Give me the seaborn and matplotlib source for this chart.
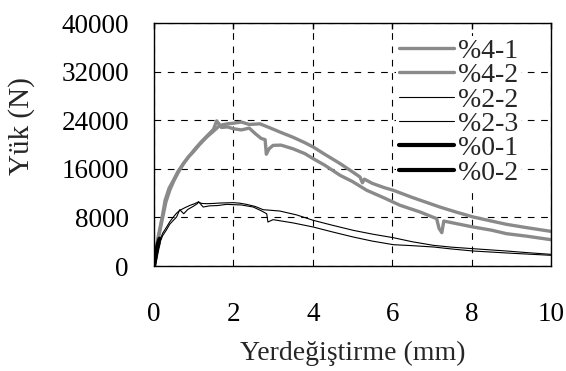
import numpy as np
import pandas as pd
import matplotlib
matplotlib.use("Agg")
import matplotlib.pyplot as plt
import seaborn as sns
from matplotlib.ticker import MultipleLocator

# Series (displacement in mm, load in N)
x_41 = [0, 0.05, 0.1, 0.15, 0.22, 0.28, 0.38, 0.49, 0.6, 0.74, 0.86, 0.99, 1.15, 1.33,
        1.5, 1.66, 1.85, 2.0, 2.2, 2.4, 2.67, 2.9, 3.17, 3.5, 3.8, 4.01, 4.3, 4.69,
        5.0, 5.19, 5.25, 5.3, 5.5, 5.8, 6.03, 6.5, 7.2, 7.6, 8.04, 8.5, 8.88, 9.4, 10.0]
y_41 = [0, 2600, 4600, 6200, 8500, 10800, 12800, 14100, 15500, 16850, 17900, 18770,
        20000, 21230, 22200, 23150, 23400, 23500, 23700, 23300, 23400, 22800, 22060,
        21200, 20300, 19590, 18400, 16850, 15500, 14650, 13700, 14300, 13600, 12900,
        12460, 11300, 9710, 8900, 8070, 7400, 6860, 6300, 5700]

x_42 = [0, 0.05, 0.1, 0.15, 0.22, 0.3, 0.4, 0.5, 0.62, 0.75, 0.9, 1.05, 1.2, 1.35,
        1.5, 1.58, 1.7, 1.85, 2.0, 2.2, 2.4, 2.55, 2.7, 2.8, 2.83, 2.9, 3.0, 3.2,
        3.5, 3.8, 4.01, 4.3, 4.69, 5.0, 5.36, 5.8, 6.2, 6.7, 7.12, 7.18, 7.25, 7.3,
        7.6, 8.04, 8.5, 8.88, 9.4, 10.0]
y_42 = [0, 2200, 4200, 5800, 8000, 10500, 12500, 14000, 15500, 16900, 18200, 19400,
        20500, 21500, 22500, 23900, 22800, 22900, 22600, 22400, 22700, 21800, 21000,
        20800, 18400, 19300, 19860, 19900, 19300, 18500, 17670, 16600, 14920, 13900,
        12460, 11200, 9990, 8900, 7790, 6200, 5490, 7400, 7000, 6420, 5900, 5320, 4900,
        4330]

x_22 = [0, 0.05, 0.1, 0.15, 0.22, 0.32, 0.4, 0.49, 0.57, 0.65, 0.78, 0.91, 1.0, 1.12,
        1.2, 1.33, 1.5, 1.66, 1.85, 2.0, 2.15, 2.33, 2.55, 2.75, 3.17, 3.6, 4.01,
        4.5, 5.02, 5.5, 6.03, 6.5, 7.04, 7.5, 8.04, 8.88, 9.4, 10.0]
y_22 = [0, 1600, 3000, 4225, 5400, 6420, 7300, 8070, 8700, 9160, 9600, 9990, 10200,
        10535, 10300, 10260, 10300, 10370, 10400, 10425, 10350, 10150, 9800, 9270,
        9050, 8400, 7520, 6700, 5870, 5250, 4660, 4000, 3400, 3100, 2850, 2470, 2200,
        1920]

x_23 = [0, 0.05, 0.1, 0.15, 0.22, 0.32, 0.4, 0.49, 0.57, 0.65, 0.75, 0.85, 0.99,
        1.1, 1.12, 1.24, 1.4, 1.6, 1.83, 2.0, 2.2, 2.5, 2.7, 2.84, 2.87, 3.0, 3.5,
        4.01, 4.5, 5.02, 5.5, 6.03, 6.5, 7.04, 7.5, 8.04, 9.0, 10.0]
y_23 = [0, 1400, 2700, 3900, 5000, 6000, 6900, 7520, 8070, 9270, 8600, 9300, 9820,
        10300, 10600, 9710, 9900, 9950, 10150, 10100, 10050, 9710, 9100, 8600, 7240,
        7630, 7100, 6420, 5600, 4770, 4100, 3510, 3350, 3130, 2800, 2470, 2100, 1760]

x_01 = [0, 0.03, 0.06, 0.1, 0.14]
y_01 = [0, 1200, 2500, 3700, 4500]

x_02 = [0, 0.04, 0.08, 0.12]
y_02 = [0, 1400, 2700, 3800]

labels = ["%4-1", "%4-2", "%2-2", "%2-3", "%0-1", "%0-2"]
series = [(x_41, y_41), (x_42, y_42), (x_22, y_22), (x_23, y_23), (x_01, y_01), (x_02, y_02)]
colors = ["#8a8a8a", "#8a8a8a", "black", "black", "black", "black"]
widths = [2.4, 2.4, 0.8, 0.8, 3.0, 3.0]

sns.set_style("white")
plt.rcParams["font.family"] = ["Liberation Serif", "DejaVu Serif"]

FS = 19.5

fig = plt.figure(figsize=(5.66, 3.71), dpi=100)
ax = fig.add_axes([0.272, 0.283, 0.7015, 0.655])

ax.grid(True, which="major", color="black", linestyle=(0, (6, 6)), linewidth=0.8)
ax.set_axisbelow(True)

for (xs, ys), lab, c, w in zip(series, labels, colors, widths):
    df = pd.DataFrame({"x": xs, "y": ys})
    sns.lineplot(data=df, x="x", y="y", ax=ax, color=c, linewidth=w, sort=False,
                 estimator=None, label=lab)

ax.set_xlim(0, 10)
ax.set_ylim(0, 40000)
ax.xaxis.set_major_locator(MultipleLocator(2))
ax.xaxis.set_minor_locator(MultipleLocator(0.4))
ax.yaxis.set_major_locator(MultipleLocator(8000))
ax.yaxis.set_minor_locator(MultipleLocator(2000))

for s in ax.spines.values():
    s.set_color("black")
    s.set_linewidth(1.0)

ax.tick_params(axis="y", which="major", direction="inout", length=12, width=1,
               labelsize=FS, colors="black", pad=12)
ax.tick_params(axis="y", which="minor", direction="out", length=5, width=1)
ax.tick_params(axis="x", which="major", direction="out", length=7, width=1,
               labelsize=FS, colors="black", pad=19, top=True, labeltop=False)
ax.tick_params(axis="x", which="minor", direction="out", length=5, width=1)
for t in ax.xaxis.get_major_ticks():
    t.tick2line.set_markersize(4)
    t.tick2line.set_marker(3)
ax.tick_params(axis="y", which="both", right=False)

ax.set_xlabel("Yerdeğiştirme (mm)", fontsize=20, labelpad=10)
ax.set_ylabel("Yük (N)", fontsize=21)
ax.yaxis.set_label_coords(-0.30, 0.576)

leg = ax.legend(loc="upper right", bbox_to_anchor=(0.924, 0.948), frameon=True,
                fontsize=20, handlelength=2.0, labelspacing=-0.04, handletextpad=0.12,
                borderpad=0.1, borderaxespad=0.0, fancybox=False)
leg.get_frame().set_edgecolor("none")
leg.get_frame().set_facecolor("white")
leg.get_frame().set_alpha(1.0)

fig.savefig("out.png", dpi=100)
